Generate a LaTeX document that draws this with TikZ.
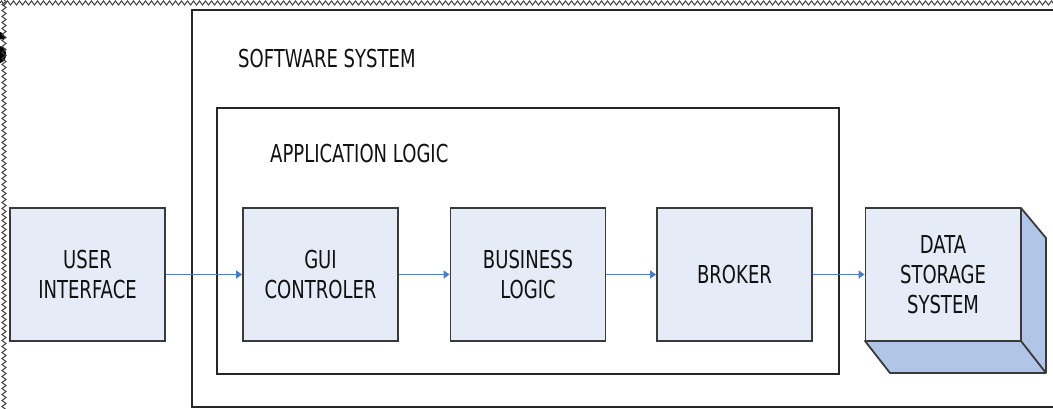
\documentclass[tikz,border=0pt]{standalone}
\usepackage{fontspec}
\setmainfont[FakeStretch=0.73]{DejaVu Sans}
\newfontfamily\titlefont{Liberation Sans}
\usetikzlibrary{arrows.meta,decorations.pathmorphing}
\definecolor{boxfill}{HTML}{E5ECF7}
\definecolor{sidefill}{HTML}{B1C6E6}
\definecolor{boxline}{HTML}{3A3A3A}
\definecolor{arrowblue}{HTML}{4A7EC0}
\definecolor{txt}{HTML}{111111}
\tikzset{
  block/.style={draw=boxline, line width=1.8pt, fill=boxfill, minimum width=155pt, minimum height=133pt,
    align=center, text=txt, font=\fontsize{24.7}{30}\selectfont, inner sep=0pt},
  frame/.style={draw=black!85, line width=2pt},
  label/.style={anchor=west, inner sep=0pt, text=txt, font=\fontsize{24.7}{30}\selectfont},
  flow/.style={draw=arrowblue, line width=1.5pt, -{Triangle[length=6pt,width=8pt]}},
  zig/.style={draw=black!75, line width=1pt, decorate, decoration={zigzag, segment length=6pt, amplitude=2pt}}
}
\begin{document}
\begin{tikzpicture}[x=1pt,y=-1pt]
\useasboundingbox (0,0) rectangle (1053,409);
\begin{scope}
\clip (0,0) rectangle (1053,409);
% cut-off title letter
\node[anchor=east, inner sep=0pt, font=\titlefont\bfseries\fontsize{48}{50}\selectfont] (title) at (9,48) {S};
% outer frame (software system)
\draw[frame] (191.5,10) rectangle (1070,406.5);
\node[label] (sw) at (238,59) {SOFTWARE SYSTEM};
% application logic frame
\draw[frame] (217,108) rectangle (838.5,373.5);
\node[label] (al) at (270,154) {APPLICATION LOGIC};
% blocks
\node[block] (ui) at (87.5,274.5) {USER\\INTERFACE};
\node[block] (gui) at (320.5,274.5) {GUI\\CONTROLER};
\node[block] (bl) at (528,274.5) {BUSINESS\\LOGIC};
\node[block] (br) at (734.5,274.5) {BROKER};
% data storage 3D box
\fill[sidefill, draw=boxline, line width=1.8pt, line join=round]
  (1021,208) -- (1046,238) -- (1046,373) -- (890,373) -- (865,341) -- (1021,341) -- cycle;
\draw[boxline, line width=1.8pt] (1021,341) -- (1046,373);
\node[block] (ds) at (943,274.5) {DATA\\STORAGE\\SYSTEM};
% arrows
\draw[flow] (ui.east) -- (gui.west);
\draw[flow] (gui.east) -- (bl.west);
\draw[flow] (bl.east) -- (br.west);
\draw[flow] (br.east) -- (ds.west);
% torn edges
\draw[zig] (0,3) -- (1060,3);
\draw[zig] (4,0) -- (4,412);
\end{scope}
\end{tikzpicture}
\end{document}
